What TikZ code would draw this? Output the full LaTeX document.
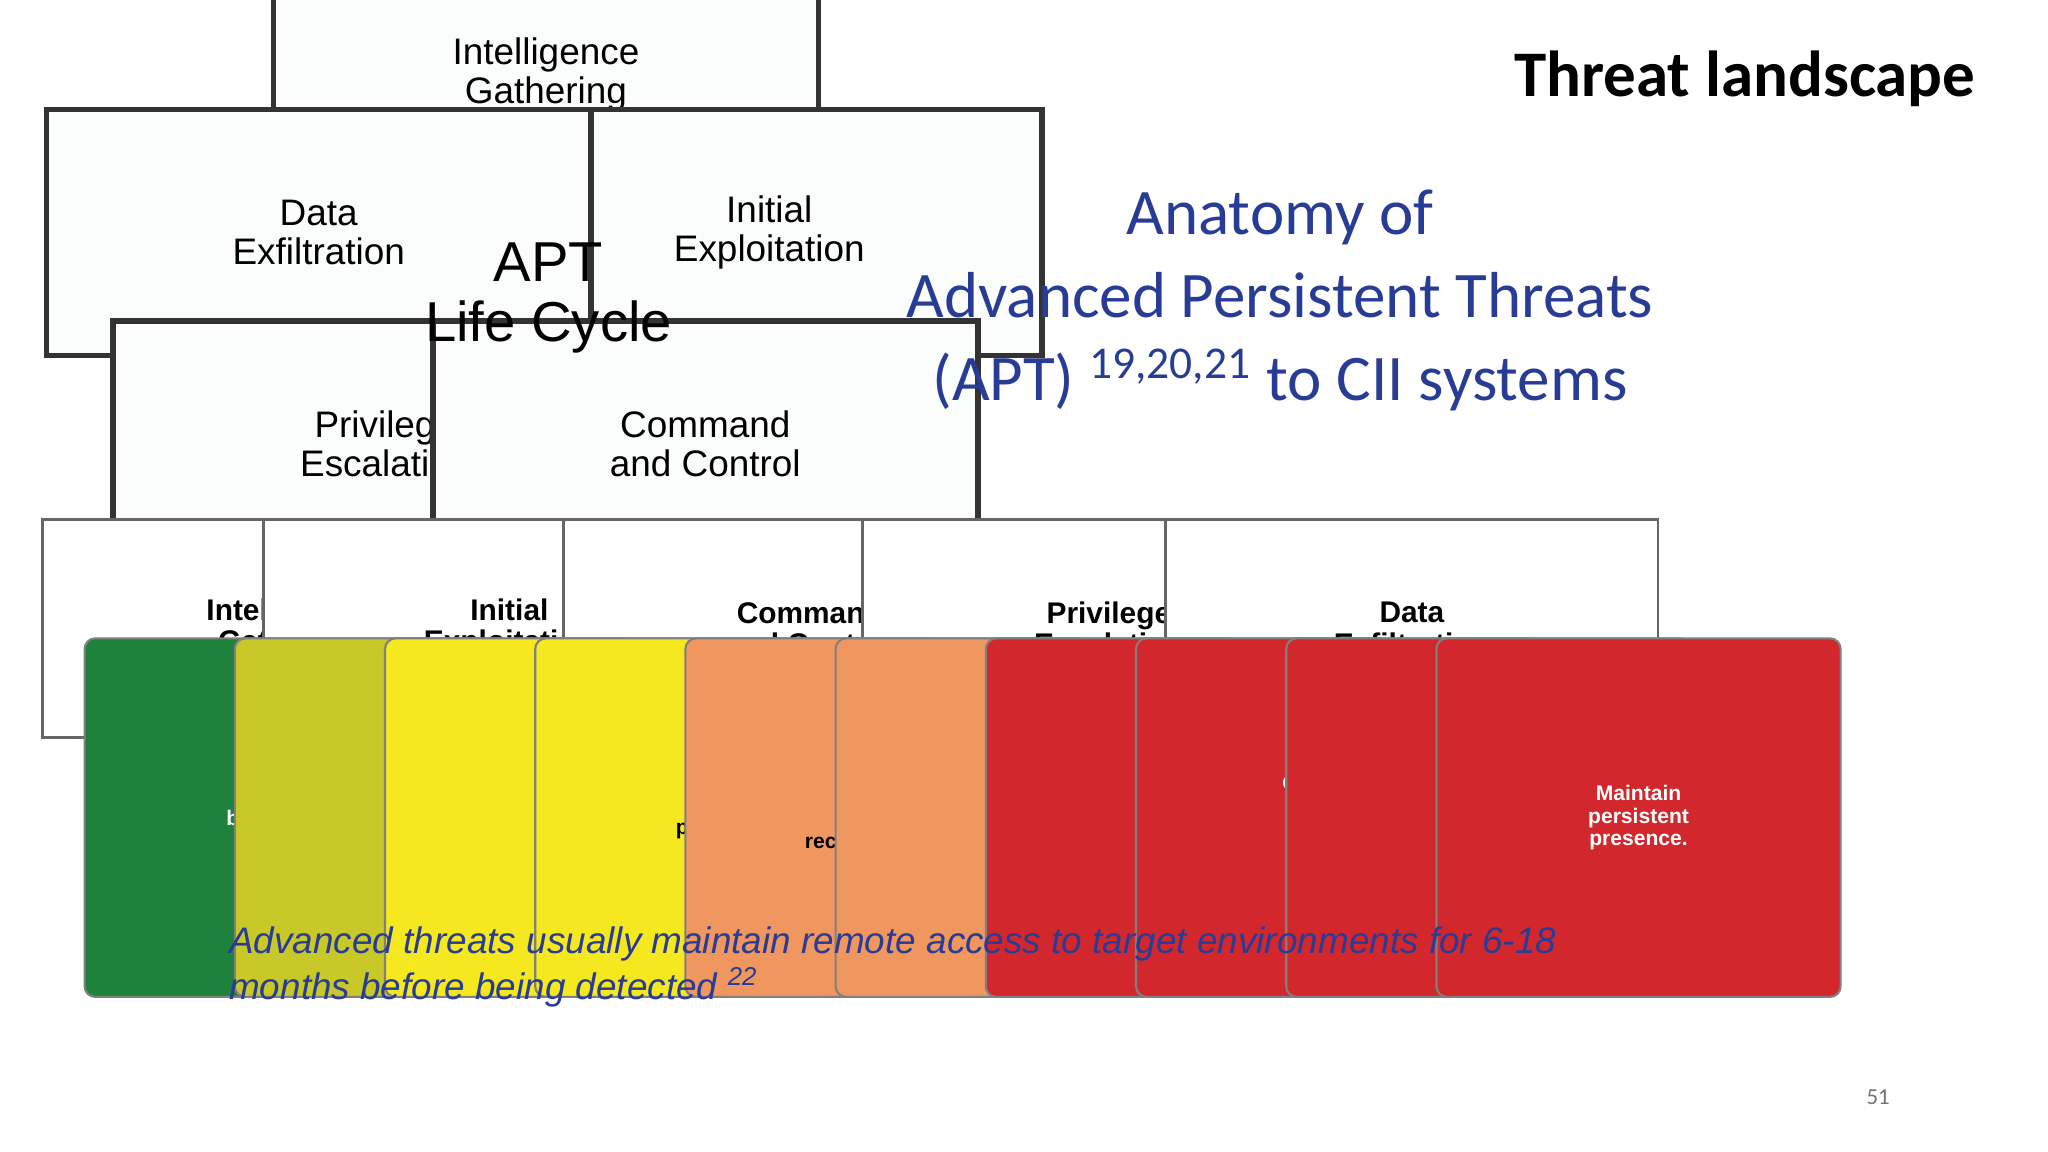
\documentclass[tikz,border=0pt]{standalone}
\usepackage{fontspec}
\setmainfont{Liberation Sans}
\newfontfamily\carlitofont{Carlito}
\usetikzlibrary{arrows.meta}
\definecolor{ring}{RGB}{205,226,232}
\definecolor{org}{RGB}{240,100,40}
\definecolor{teal2}{RGB}{20,110,120}
\definecolor{navy}{RGB}{40,60,150}
\definecolor{cgreen}{RGB}{30,130,60}
\definecolor{cyg}{RGB}{200,200,40}
\definecolor{cyel}{RGB}{245,232,30}
\definecolor{corg}{RGB}{240,150,95}
\definecolor{cred}{RGB}{210,40,45}
\tikzset{
 cbox/.style={draw=black!80,line width=1.6pt,fill=white!93!ring,minimum width=155,minimum height=70,align=center,font=\fontsize{10.5}{11}\selectfont,inner sep=0},
 hbox/.style={draw=black!60,line width=0.8pt,fill=white,minimum width=140,minimum height=62,align=center,font=\fontsize{8.5}{9}\selectfont\bfseries,inner sep=0},
 stepbox/.style={draw=black!50,line width=0.6pt,rounded corners=3,minimum width=115,minimum height=102,align=center,font=\fontsize{6}{6.5}\selectfont\bfseries,inner sep=1},
 oar/.style={org,line width=4pt,-{Triangle[length=8pt,width=10pt]}},
 tar/.style={teal2,line width=4pt,-{Triangle[length=8pt,width=10pt]}},
 brace/.style={line width=2pt,black!85}
}
\begin{document}
\begin{tikzpicture}[x=0.013061cm,y=-0.013061cm]
\useasboundingbox (0,0) rectangle (1568,882);
\coordinate (c) at (420,228);
% ring
\fill[ring,even odd rule] (c) circle[radius=190] (c) circle[radius=158];
% orange arcs
\draw[oar] (c) ++(207:197) arc[start angle=207,end angle=245,radius=197];
\draw[oar] (c) ++(294:197) arc[start angle=294,end angle=331,radius=197];
\draw[oar] (c) ++(358:197) arc[start angle=358,end angle=382,radius=197];
\draw[oar] (c) ++(55:197) arc[start angle=55,end angle=127,radius=197];
\draw[oar] (c) ++(157:197) arc[start angle=157,end angle=187,radius=197];
% teal arcs
\draw[tar] (c) ++(248:165) arc[start angle=248,end angle=216,radius=165];
\draw[tar] (c) ++(185:165) arc[start angle=185,end angle=154,radius=165];
\draw[tar] (c) ++(113:165) arc[start angle=113,end angle=72,radius=165];
\draw[tar] (c) ++(29:165) arc[start angle=29,end angle=-4,radius=165];
\draw[tar] (c) ++(-33:165) arc[start angle=-33,end angle=-60,radius=165];
% boxes
\node[cbox] (ig) at (418,57) {Intelligence\\Gathering};
\node[cbox] (ie) at (589,178) {Initial\\Exploitation};
\node[cbox] (de) at (244,178) {Data\\Exfiltration};
\node[cbox] (pe) at (295,340) {Privilege\\Escalation};
\node[cbox] (cc) at (540,340) {Command\\and Control};
\node[align=center,font=\fontsize{16}{17}\selectfont] (apt) at (420,228) {APT\\Life Cycle};
% titles
\node[anchor=east,font=\carlitofont\fontsize{18.5}{20}\selectfont\bfseries] (tl) at (1522,60) {Threat landscape};
\node[align=center,text=navy,font=\carlitofont\fontsize{18.5}{23.5}\selectfont] (an) at (980,230) {Anatomy of\\Advanced Persistent Threats\\(APT) \textsuperscript{19,20,21} to CII systems};
% header boxes
\node[hbox] (h1) at (221,481) {Intelligence\\Gathering};
\node[hbox] (h2) at (390,481) {Initial\\Exploitation};
\node[hbox] (h3) at (620,481) {Command\\and Control};
\node[hbox] (h4) at (849,481) {Privilege\\Escalation};
\node[hbox] (h5) at (1081,481) {Data\\Exfiltration};
% braces
\foreach \a/\m/\b in {162/222/277,277/392/507,507/622/737,737/852/967,967/1082/1197}{
 \draw[brace] (\a,572) -- (\a,560) .. controls (\a,550) .. (\a+10,550) -- (\m-10,550) .. controls (\m-3,550) .. (\m,522) .. controls (\m+3,550) .. (\m+10,550) -- (\b-10,550) .. controls (\b,550) .. (\b,560) -- (\b,572);
}
% steps
\node[stepbox,fill=cgreen,text=white] (s1) at (219.5,626) {Conduct\\background\\research.};
\node[stepbox,fill=cyg] (s2) at (334.5,626) {Execute\\initial\\attack.};
\node[stepbox,fill=cyel] (s3) at (449.5,626) {Establish\\foothold.};
\node[stepbox,fill=cyel] (s4) at (564.5,626) {Enable\\persistence.};
\node[stepbox,fill=corg] (s5) at (679.5,626) {Conduct\\enterprise\\reconnaissance.};
\node[stepbox,fill=corg] (s6) at (794.5,626) {Move\\laterally to\\new\\systems.};
\node[stepbox,fill=cred,text=white] (s7) at (909.5,626) {Escalate\\privileges.};
\node[stepbox,fill=cred,text=white] (s8) at (1024.5,626) {Gather and\\encrypt\\data of\\interest.};
\node[stepbox,fill=cred,text=white] (s9) at (1139.5,626) {Exfiltrate\\data from\\victim\\systems.};
\node[stepbox,fill=cred,text=white] (s10) at (1254.5,626) {Maintain\\persistent\\presence.};
% caption
\node[anchor=north west,align=left,text=navy,font=\fontsize{10.5}{13}\selectfont\itshape] (cap) at (166,700) {Advanced threats usually maintain remote access to target environments for 6-18\\months before being detected \textsuperscript{22}};
\node[text=black!55,font=\carlitofont\fontsize{6.5}{7}\selectfont] (pg) at (1438,840) {51};
\end{tikzpicture}
\end{document}
